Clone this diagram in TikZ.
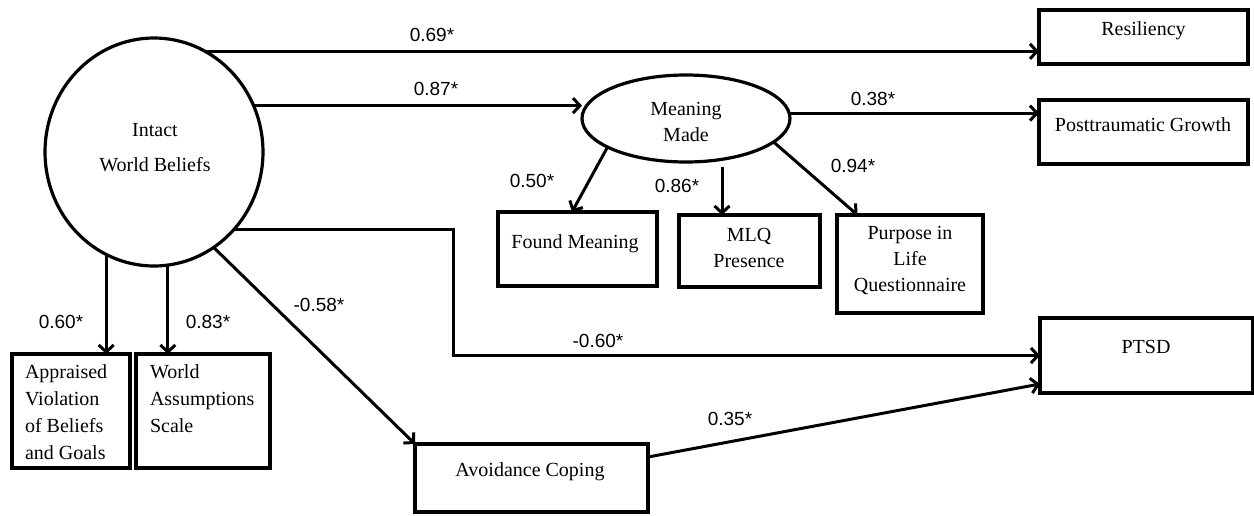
\documentclass[tikz,border=0pt]{standalone}
\usepackage{fontspec}
\setmainfont{Liberation Serif}
\newfontfamily\coeffont{Liberation Sans}
\usetikzlibrary{arrows.meta,shapes.geometric}

\begin{document}
\begin{tikzpicture}[x=1pt,y=-1pt,
  every node/.style={inner sep=0pt, outer sep=0pt},
  frame/.style={draw, line width=3.2pt, rectangle},
  latent/.style={draw, line width=3.2pt, ellipse},
  txt/.style={font=\fontsize{20}{26}\selectfont, align=center},
  coef/.style={font=\coeffont\fontsize{19}{22}\selectfont},
  link/.style={line width=3pt, -{Straight Barb[length=7pt,width=15pt]}}
]
\useasboundingbox (0,0) rectangle (1254,515);

% latent variables
\node[latent, minimum width=218, minimum height=228] (iwb) at (154,152) {};
\node[txt, font=\fontsize{20}{35}\selectfont] (iwbT) at (155,148) {Intact\\World Beliefs};
\node[latent, minimum width=208, minimum height=87] (mm) at (686,118.5) {};
\node[txt] (mmT) at (686,122) {Meaning\\Made};

% observed variables
\node[frame, minimum width=209, minimum height=54] (res) at (1143.5,37) {};
\node[txt] (resT) at (1143.5,31) {Resiliency};
\node[frame, minimum width=209, minimum height=64] (ptg) at (1143.5,132) {};
\node[txt] (ptgT) at (1143,125) {Posttraumatic Growth};
\node[frame, minimum width=159, minimum height=74] (fm) at (577.5,249) {};
\node[txt] (fmT) at (575,244) {Found Meaning};
\node[frame, minimum width=141, minimum height=72] (mlq) at (749.5,251) {};
\node[txt] (mlqT) at (749,248) {MLQ\\Presence};
\node[frame, minimum width=146, minimum height=98] (pil) at (910,264) {};
\node[txt] (pilT) at (910,260) {Purpose in\\Life\\Questionnaire};
\node[frame, minimum width=118, minimum height=114] (app) at (71,411) {};
\node[txt, font=\fontsize{20}{27}\selectfont, align=left, anchor=west] (appT) at (25,412) {Appraised\\Violation\\of Beliefs\\and Goals};
\node[frame, minimum width=134, minimum height=114] (was) at (203,411) {};
\node[txt, font=\fontsize{20}{27}\selectfont, align=left, anchor=west] (wasT) at (150,399) {World\\Assumptions\\Scale};
\node[frame, minimum width=233, minimum height=68] (avo) at (531.5,478) {};
\node[txt] (avoT) at (530,472) {Avoidance Coping};
\node[frame, minimum width=213, minimum height=75] (ptsd) at (1146.5,355.5) {};
\node[txt] (ptsdT) at (1146,347) {PTSD};

% paths
\coordinate (mlqIn) at ([xshift=-27.5pt]mlq.north);
\draw[link] (iwb.63.4) -- (iwb.63.4 -| res.west);
\draw[link] (iwb.25.9) -- (iwb.25.9 -| mm.west);
\draw[link] (mm.3.6) -- (mm.3.6 -| ptg.west);
\draw[link] (mm.200.8) -- ([xshift=-5.5pt]fm.north);
\draw[link, shorten <=5pt] (mlqIn |- mm.south) -- (mlqIn);
\draw[link] (mm.345.7) -- ([xshift=-52.5pt]pil.north);
\draw[link] (iwb.245.5) -- (iwb.245.5 |- app.north);
\draw[link] (iwb.277.6) -- (iwb.277.6 |- was.north);
\draw[link] (iwb.302) -- (avo.north west);
\draw[link] (iwb.316.2) -- ++(219,0) |- (ptsd.west);
\draw[link] ([yshift=21pt]avo.east) -- ([yshift=-28.5pt]ptsd.west);

% path coefficients
\node[coef] (c69) at (432,35) {0.69*};
\node[coef] (c87) at (436,89) {0.87*};
\node[coef] (c38) at (873,99) {0.38*};
\node[coef] (c50) at (532,181) {0.50*};
\node[coef] (c86) at (677,186) {0.86*};
\node[coef] (c94) at (853,166) {0.94*};
\node[coef] (c60) at (61,322) {0.60*};
\node[coef] (c83) at (208,322) {0.83*};
\node[coef] (c58) at (319,305) {-0.58*};
\node[coef] (c60n) at (598,341) {-0.60*};
\node[coef] (c35) at (730,419) {0.35*};
\end{tikzpicture}
\end{document}
